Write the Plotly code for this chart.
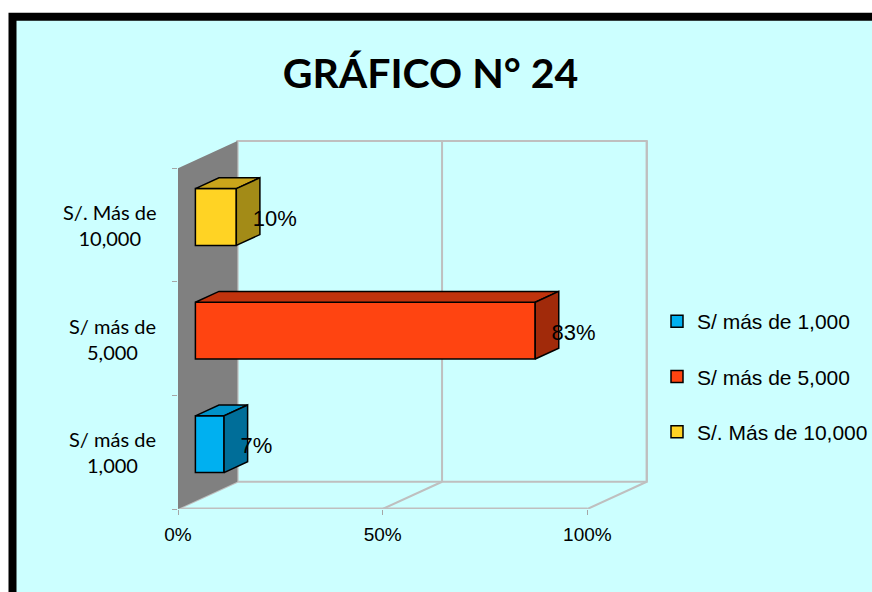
import plotly.graph_objects as go

# data
categories = ["S/ más de<br>1,000", "S/ más de<br>5,000", "S/. Más de<br>10,000"]
series_names = ["S/ más de 1,000", "S/ más de 5,000", "S/. Más de 10,000"]
values = [7, 83, 10]
x_ticks = [0, 50, 100]
x_tick_labels = ["0%", "50%", "100%"]

front_colors = ["#00B0F0", "#FF4411", "#FFD324"]
top_colors = ["#0092C8", "#C0330D", "#CAA51B"]
side_colors = ["#006E99", "#A12A0A", "#A38B17"]

# 3d look: depth of the box in axis units, and where the bars sit inside it
DX, DY = 14.5, 0.24
BAR_OFF = 0.293
BAR_DEPTH = 0.397
BAR_W = 0.5
GRID = "#BFBFBF"

# figure is a bit wider than the window so the legend never pushes the margins;
# the window crops the extra strip on the right
FIG_W, FIG_H = 890, 592
L, R, T, B = 178, 866, 130, 509
x_max = (R - L) / 4.094
y_max = -0.5 + (B - T) / 113.6


def px(x):
    return (x - L) / (R - L)


def py(y):
    return (B - y) / (B - T)


def path(pts):
    return "M " + " L ".join(f"{x},{y}" for x, y in pts) + " Z"


fig = go.Figure()

shapes = []
# cyan panel with thick black border
shapes.append(dict(type="rect", xref="paper", yref="paper", layer="below",
                   x0=px(12.5), x1=px(920), y0=py(16.7), y1=py(640),
                   fillcolor="#CCFFFF", line=dict(color="black", width=8)))
# back wall outline
y_lo, y_hi = -0.5, len(categories) - 0.5
shapes.append(dict(type="path", xref="x", yref="y", layer="below",
                   path=path([(DX, y_lo + DY), (DX, y_hi + DY), (100 + DX, y_hi + DY), (100 + DX, y_lo + DY)]),
                   line=dict(color=GRID, width=2)))
# floor front edge
shapes.append(dict(type="line", xref="x", yref="y", layer="below",
                   x0=0, y0=y_lo, x1=100, y1=y_lo, line=dict(color=GRID, width=3)))
for t in x_ticks:
    shapes.append(dict(type="line", xref="x", yref="y", layer="below",
                       x0=t, y0=y_lo, x1=t + DX, y1=y_lo + DY, line=dict(color=GRID, width=2)))
    shapes.append(dict(type="line", xref="x", yref="y", layer="below",
                       x0=t + DX, y0=y_lo + DY, x1=t + DX, y1=y_hi + DY, line=dict(color=GRID, width=2)))
# grey side wall
shapes.append(dict(type="path", xref="x", yref="y", layer="below",
                   path=path([(0, y_lo), (0, y_hi), (DX, y_hi + DY), (DX, y_lo + DY)]),
                   fillcolor="#808080", line=dict(width=0)))

bx0 = BAR_OFF * DX
ddx, ddy = BAR_DEPTH * DX, BAR_DEPTH * DY
for i, v in enumerate(values):
    by = i + BAR_OFF * DY
    fig.add_trace(go.Bar(
        y=[by], x=[v], base=[bx0], orientation="h", width=BAR_W,
        marker=dict(color=front_colors[i], line=dict(color="black", width=1.5)),
        name=series_names[i], legendgroup=series_names[i], hoverinfo="skip"))
    top = [(bx0, by + BAR_W / 2), (bx0 + v, by + BAR_W / 2),
           (bx0 + v + ddx, by + BAR_W / 2 + ddy), (bx0 + ddx, by + BAR_W / 2 + ddy), (bx0, by + BAR_W / 2)]
    side = [(bx0 + v, by - BAR_W / 2), (bx0 + v, by + BAR_W / 2),
            (bx0 + v + ddx, by + BAR_W / 2 + ddy), (bx0 + v + ddx, by - BAR_W / 2 + ddy), (bx0 + v, by - BAR_W / 2)]
    for pts, col in [(top, top_colors[i]), (side, side_colors[i])]:
        fig.add_trace(go.Scatter(
            x=[p[0] for p in pts], y=[p[1] for p in pts], mode="lines", fill="toself",
            fillcolor=col, line=dict(color="black", width=1.5),
            showlegend=False, hoverinfo="skip", legendgroup=series_names[i]))
    fig.add_trace(go.Scatter(
        x=[bx0 + v + 4.0], y=[by - 0.03], mode="text", text=[f"{v}%"],
        textposition="middle right",
        textfont=dict(family="Liberation Sans, Arial", size=22, color="black"),
        showlegend=False, hoverinfo="skip", legendgroup=series_names[i]))

annotations = []
for i, c in enumerate(categories):
    annotations.append(dict(xref="paper", yref="y", x=px(158), y=i, text=c,
                            xanchor="right", yanchor="middle", align="center", showarrow=False,
                            font=dict(family="Lato", size=20, color="black")))

fig.update_layout(
    width=FIG_W, height=FIG_H,
    margin=dict(l=L, r=FIG_W - R, t=T, b=FIG_H - B),
    paper_bgcolor="white", plot_bgcolor="rgba(0,0,0,0)",
    barmode="overlay",
    title=dict(text="<b>GRÁFICO N° 24</b>", xref="container", yref="container",
               x=430.5 / FIG_W, y=1 - 73.5 / FIG_H, xanchor="center", yanchor="middle",
               font=dict(family="Lato", size=41, color="black")),
    xaxis=dict(range=[0, x_max], tickvals=x_ticks, ticktext=x_tick_labels,
               ticks="outside", ticklen=5, tickcolor="#A6A6A6",
               showgrid=False, zeroline=False, showline=False, ticklabelstandoff=3,
               tickfont=dict(family="Liberation Sans, Arial", size=19, color="black")),
    yaxis=dict(range=[-0.5, y_max], tickvals=[y_lo + k for k in range(len(categories) + 1)],
               ticks="outside", ticklen=5, tickcolor="#A6A6A6", showticklabels=False,
               showgrid=False, zeroline=False, showline=False),
    legend=dict(x=px(657), y=py(301), xanchor="left", yanchor="top",
                traceorder="grouped", tracegroupgap=25, bgcolor="rgba(0,0,0,0)",
                font=dict(family="Liberation Sans, Arial", size=21, color="black")),
    shapes=shapes, annotations=annotations,
)

# drop the page margin so the figure starts at the window corner
fig.write_html("out.html",
               config={"responsive": False, "displayModeBar": False},
               post_script="document.body.style.margin='0';document.body.style.overflow='hidden';")
